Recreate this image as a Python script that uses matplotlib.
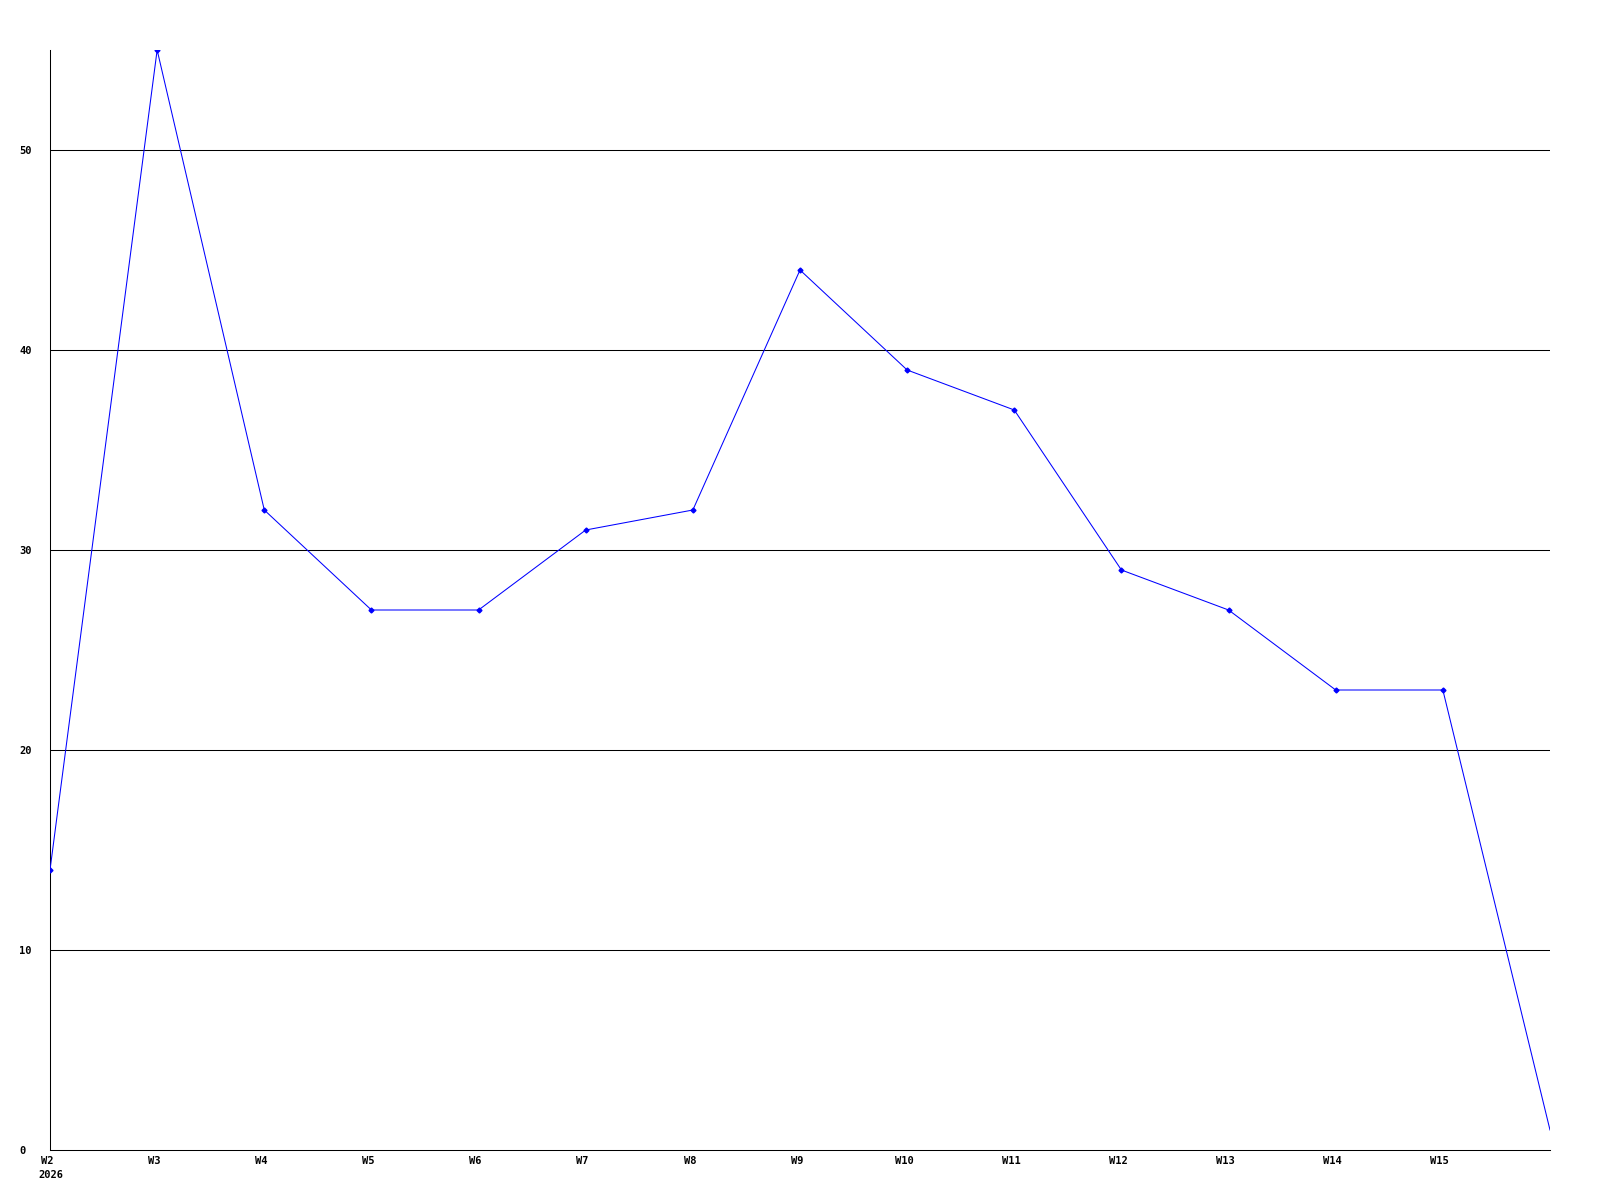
import matplotlib
matplotlib.use("Agg")
import matplotlib.pyplot as plt
import matplotlib.transforms as mtransforms

# weekly counts
weeks = ["W2", "W3", "W4", "W5", "W6", "W7", "W8", "W9",
         "W10", "W11", "W12", "W13", "W14", "W15", "W16"]
counts = [14, 55, 32, 27, 27, 31, 32, 44, 39, 37, 29, 27, 23, 23, 1]
year_label = "2026"
y_ticks = [0, 10, 20, 30, 40, 50]

W, H = 1600, 1200
fig = plt.figure(figsize=(16, 12), dpi=100)
ax = fig.add_axes([50 / W, 50 / H, 1500 / W, 1100 / H])

font = dict(family="DejaVu Sans Mono", weight="bold", size=7.5)
lw = 0.75  # ~1 px

x = list(range(len(counts)))
ax.plot(x, counts, color="#0000ff", lw=lw, marker="D", ms=2.5,
        markevery=list(range(len(counts) - 1)), zorder=3)

ax.set_xlim(0, len(counts) - 1)
ax.set_ylim(0, 55)

ax.set_yticks(y_ticks)
ax.set_yticklabels([str(v) for v in y_ticks], fontdict=font)
for lab in ax.get_yticklabels():
    lab.set_horizontalalignment("left")
ax.tick_params(axis="y", length=0, pad=22)
for v in y_ticks[1:]:
    ax.axhline(v, color="black", lw=lw, zorder=1)

ax.set_xticks(x[:-1])
ax.set_xticklabels(weeks[:-1], fontdict=font)
ax.tick_params(axis="x", length=0, pad=4)
shift = mtransforms.ScaledTranslation(-3 / 100, 0, fig.dpi_scale_trans)
for lab in ax.get_xticklabels():
    lab.set_transform(lab.get_transform() + shift)
ax.annotate(year_label, xy=(0, 0), xycoords="data", xytext=(-12, -20),
            textcoords="offset pixels", ha="left", va="top", **font)

for s in ["top", "right"]:
    ax.spines[s].set_visible(False)
for s in ["left", "bottom"]:
    ax.spines[s].set_linewidth(lw)
    ax.spines[s].set_color("black")

fig.savefig("out.png", dpi=100, facecolor="white")
